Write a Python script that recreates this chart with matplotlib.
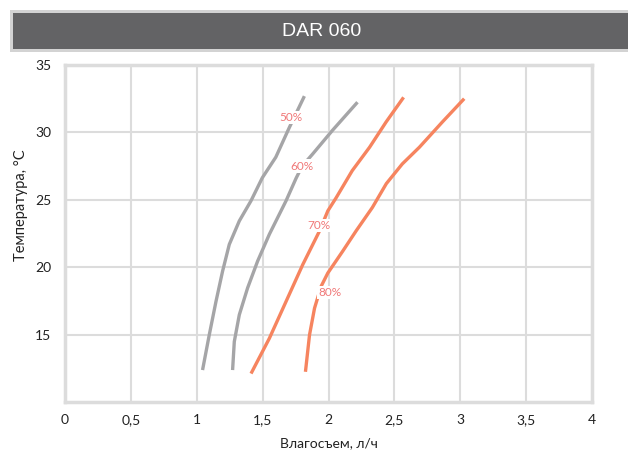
import matplotlib
matplotlib.use("Agg")
import matplotlib.pyplot as plt
from matplotlib.patches import Rectangle

plt.rcParams['font.family'] = ['Lato', 'DejaVu Sans']

# Data
x50 = [1.044, 1.095, 1.146, 1.196, 1.247, 1.323, 1.412, 1.498, 1.60, 1.703, 1.817]
y50 = [12.37, 14.98, 17.46, 19.70, 21.69, 23.43, 24.93, 26.64, 28.16, 30.37, 32.69]
x60 = [1.272, 1.285, 1.323, 1.386, 1.462, 1.551, 1.678, 1.754, 1.80, 1.88, 2.03, 2.22]
y60 = [12.37, 14.48, 16.47, 18.46, 20.45, 22.44, 24.93, 26.6, 27.5, 28.4, 30.15, 32.24]
x70 = [1.412, 1.551, 1.678, 1.805, 1.932, 1.995, 2.058, 2.18, 2.312, 2.437, 2.57]
y70 = [12.11, 14.72, 17.46, 20.2, 22.69, 24.18, 25.15, 27.16, 28.9, 30.77, 32.6]
x80 = [1.825, 1.856, 1.894, 1.944, 1.995, 2.108, 2.21, 2.333, 2.439, 2.56, 2.69, 2.864, 3.03]
y80 = [12.24, 14.98, 16.96, 18.58, 19.57, 21.19, 22.7, 24.43, 26.2, 27.66, 28.9, 30.77, 32.5]

series = [
    ("50%", x50, y50, "#a5a5a7", 1.711, 31.1),
    ("60%", x60, y60, "#a5a5a7", 1.80, 27.5),
    ("70%", x70, y70, "#f6845f", 1.924, 23.1),
    ("80%", x80, y80, "#f6845f", 2.008, 18.1),
]

xticks = [0, 0.5, 1, 1.5, 2, 2.5, 3, 3.5, 4]
xticklabels = ["0", "0,5", "1", "1,5", "2", "2,5", "3", "3,5", "4"]
yticks = [15, 20, 25, 30, 35]
yticklabels = ["15", "20", "25", "30", "35"]

W, H = 628, 455
fig = plt.figure(figsize=(W / 100, H / 100), dpi=100)

# Header banner
fig.patches.append(Rectangle((10 / W, 1 - 52 / H), (W - 10) / W, 42 / H,
                             transform=fig.transFigure, facecolor="#d3d3d3",
                             edgecolor="none", zorder=0))
fig.patches.append(Rectangle((13 / W, 1 - 49 / H), (W - 13) / W, 36 / H,
                             transform=fig.transFigure, facecolor="#636365",
                             edgecolor="none", zorder=1))
fig.text(322 / W, 1 - 31 / H, "DAR 060", color="white", fontsize=14,
         ha="center", va="center", family=["Liberation Sans", "DejaVu Sans"])

ax = fig.add_axes([65 / W, 1 - 402 / H, (592 - 65) / W, (402 - 65) / H])
ax.set_xlim(0, 4)
ax.set_ylim(10, 35)

for name, xs, ys, col, lx, ly in series:
    ax.plot(xs, ys, color=col, lw=2.4, solid_capstyle="butt",
            solid_joinstyle="round", zorder=3)
    ax.text(lx, ly, name, color="#f07878", fontsize=8.5, ha="center", va="center",
            zorder=4, bbox=dict(boxstyle="square,pad=0.1", facecolor="white",
                                edgecolor="none"))

ax.set_xticks(xticks)
ax.set_xticklabels(xticklabels)
ax.set_yticks(yticks)
ax.set_yticklabels(yticklabels)
ax.tick_params(length=0, labelsize=10, colors="#222222", pad=9)
ax.tick_params(axis="y", pad=10)
ax.grid(True, color="#dcdcdc", lw=1.5, zorder=1)
ax.set_axisbelow(True)
for sp in ax.spines.values():
    sp.set_color("#dcdcdc")
    sp.set_linewidth(2.5)

ax.set_xlabel("Влагосъем, л/ч", fontsize=10, color="#222222", labelpad=8)
ax.set_ylabel("Температура, °С", fontsize=10.5, color="#222222")
ax.yaxis.set_label_coords((28 - 65) / (592 - 65), (402 - 205) / (402 - 65))

fig.savefig("out.png", dpi=100)
